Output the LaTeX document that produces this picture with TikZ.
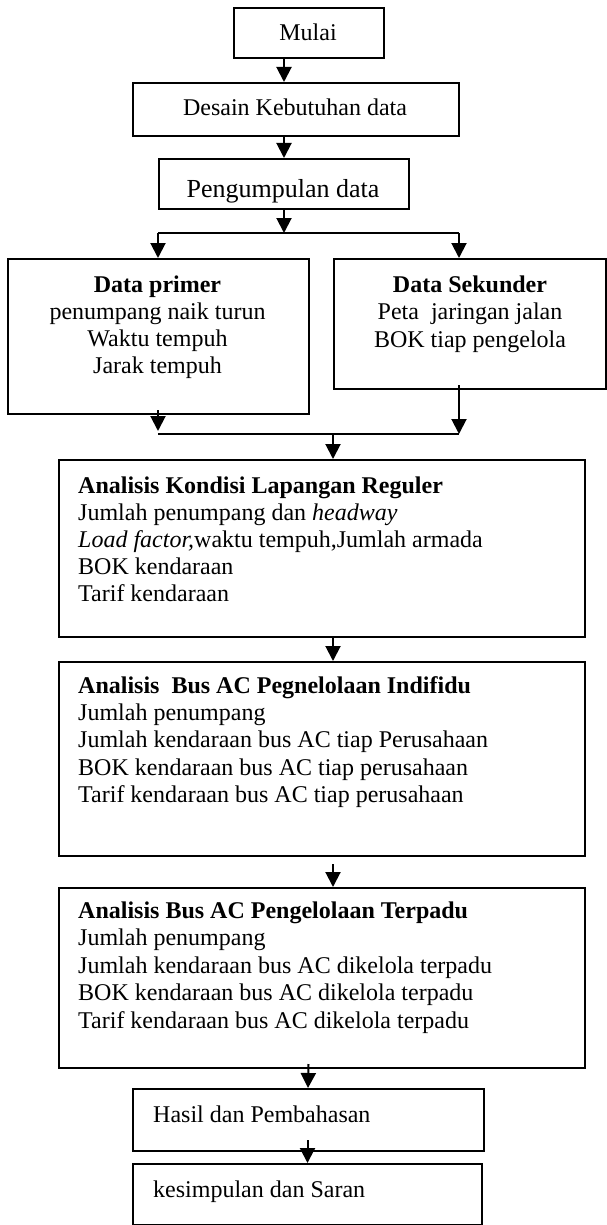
\documentclass[tikz,border=0pt]{standalone}
\usepackage{fontspec}
\setmainfont{Liberation Serif}
\usetikzlibrary{arrows.meta}
\begin{document}
\begin{tikzpicture}[x=1pt,y=-1pt,
  box/.style={draw=black, line width=2pt, rectangle, inner sep=0pt, anchor=north west},
  txt/.style={inner sep=0pt, font=\fontsize{24}{27.5}\selectfont},
  arr/.style={line width=2pt, -{Triangle[width=15pt,length=15pt]}},
  ln/.style={line width=2pt}]
\useasboundingbox (0,0) rectangle (607,1225);
% boxes
\node[box, minimum width=150pt, minimum height=50pt] (mulai) at (233,7) {};
\node[box, minimum width=326pt, minimum height=53pt] (desain) at (132,82) {};
\node[box, minimum width=250pt, minimum height=50pt] (kumpul) at (158,158) {};
\node[box, minimum width=301pt, minimum height=155pt] (primer) at (7,258) {};
\node[box, minimum width=272pt, minimum height=130pt] (sekunder) at (333,258) {};
\node[box, minimum width=526pt, minimum height=177pt] (kondisi) at (58,459) {};
\node[box, minimum width=526pt, minimum height=194pt] (indiv) at (58,661) {};
\node[box, minimum width=526pt, minimum height=180pt] (terpadu) at (58,887) {};
\node[box, minimum width=351pt, minimum height=62pt] (hasil) at (132,1088) {};
\node[box, minimum width=349pt, minimum height=61pt] (simpul) at (132,1163) {};
% texts
\node[txt, anchor=base] (tmulai) at (308,41) {Mulai};
\node[txt, anchor=base] (tdesain) at (295,116) {Desain Kebutuhan data};
\node[txt, anchor=base, font=\fontsize{26}{30}\selectfont] (tkumpul) at (283,197) {Pengumpulan data};
\node[txt, anchor=base] (tp1) at (157.5,292) {\textbf{Data primer}};
\node[txt, anchor=base] (tp2) at (157.5,319) {penumpang naik turun};
\node[txt, anchor=base] (tp3) at (157.5,346) {Waktu tempuh};
\node[txt, anchor=base] (tp4) at (157.5,373) {Jarak tempuh};
\node[txt, anchor=base] (ts1) at (470,292) {\textbf{Data Sekunder}};
\node[txt, anchor=base] (ts2) at (470,319) {Peta\ \ jaringan jalan};
\node[txt, anchor=base] (ts3) at (470,347) {BOK tiap pengelola};
\node[txt, anchor=base west] (tk1) at (78,493) {\textbf{Analisis Kondisi Lapangan Reguler}};
\node[txt, anchor=base west] (tk2) at (78,520) {Jumlah penumpang dan \textit{headway}};
\node[txt, anchor=base west] (tk3) at (78,547) {\textit{Load factor,}waktu tempuh,Jumlah armada};
\node[txt, anchor=base west] (tk4) at (78,574) {BOK kendaraan};
\node[txt, anchor=base west] (tk5) at (78,601.5) {Tarif kendaraan};
\node[txt, anchor=base west] (ti1) at (78,693) {\textbf{Analisis\ \ Bus AC Pegnelolaan Indifidu}};
\node[txt, anchor=base west] (ti2) at (78,720) {Jumlah penumpang};
\node[txt, anchor=base west] (ti3) at (78,747.5) {Jumlah kendaraan bus AC tiap Perusahaan};
\node[txt, anchor=base west] (ti4) at (78,775) {BOK kendaraan bus AC tiap perusahaan};
\node[txt, anchor=base west] (ti5) at (78,802.5) {Tarif kendaraan bus AC tiap perusahaan};
\node[txt, anchor=base west] (tt1) at (78,918) {\textbf{Analisis Bus AC Pengelolaan Terpadu}};
\node[txt, anchor=base west] (tt2) at (78,945.5) {Jumlah penumpang};
\node[txt, anchor=base west] (tt3) at (78,973) {Jumlah kendaraan bus AC dikelola terpadu};
\node[txt, anchor=base west] (tt4) at (78,1000.5) {BOK kendaraan bus AC dikelola terpadu};
\node[txt, anchor=base west] (tt5) at (78,1028) {Tarif kendaraan bus AC dikelola terpadu};
\node[txt, anchor=base west] (th) at (153,1122) {Hasil dan Pembahasan};
\node[txt, anchor=base west] (tsm) at (153,1197) {kesimpulan dan Saran};
% junction coordinates
\coordinate (splitL) at (158,233);
\coordinate (splitR) at (459,233);
\coordinate (mergeL) at (158,434);
\coordinate (mergeR) at (459,434);
\coordinate (mergeC) at (333,434);
% connectors
\draw[arr] (kumpul.north |- mulai.south) -- (kumpul.north |- desain.north);
\draw[arr] (kumpul.north |- desain.south) -- (kumpul.north);
\draw[arr] (kumpul.south) -- (kumpul.south |- splitL);
\draw[ln] (splitL) -- (splitR);
\draw[arr] (splitL) -- (splitL |- primer.north);
\draw[arr] (splitR) -- (splitR |- sekunder.north);
\draw[arr] ([yshift=5pt]mergeL |- primer.south) -- ([yshift=3pt]mergeL);
\draw[arr] ([yshift=5pt]mergeR |- sekunder.south) -- (mergeR);
\draw[ln] (mergeL) -- (mergeR);
\draw[arr] (mergeC) -- (mergeC |- kondisi.north);
\draw[arr] (mergeC |- kondisi.south) -- (mergeC |- indiv.north);
\draw[arr] ([yshift=-7pt]mergeC |- indiv.south) -- (mergeC |- terpadu.north);
\draw[arr] ([yshift=5pt]hasil.north |- terpadu.south) -- ([xshift=-0.5pt]hasil.north);
\draw[arr] ([yshift=12pt]simpul.north |- hasil.south) -- (simpul.north);
\end{tikzpicture}
\end{document}
